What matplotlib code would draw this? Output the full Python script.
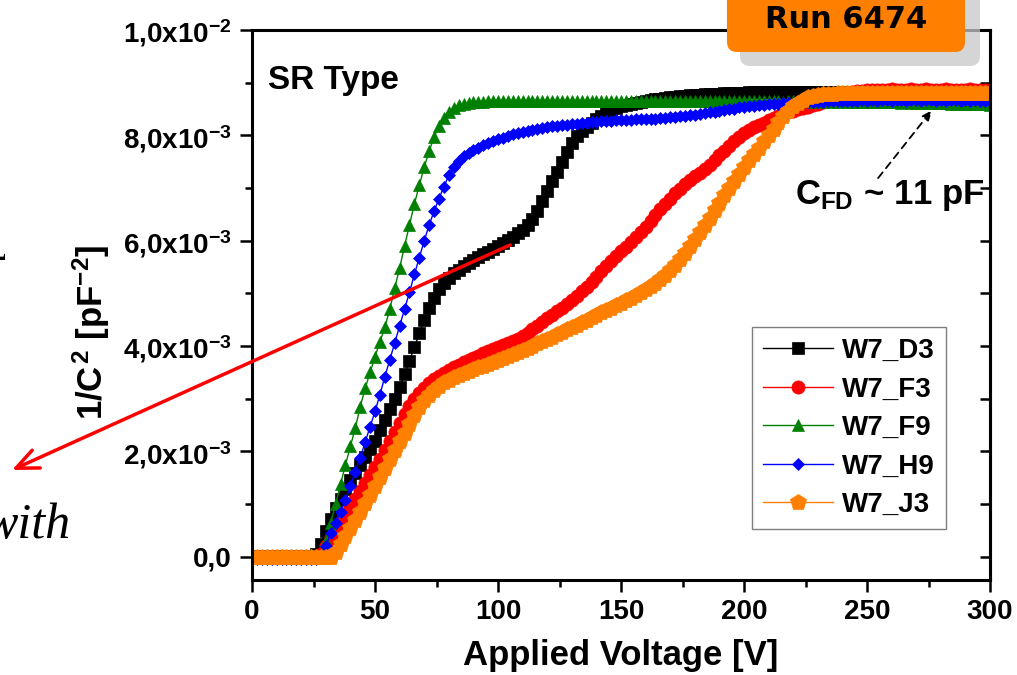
import numpy as np
import matplotlib.pyplot as plt
from matplotlib.patches import FancyBboxPatch
from matplotlib.transforms import IdentityTransform
from matplotlib.ticker import MultipleLocator, FuncFormatter

plt.rcParams['font.family'] = ['Liberation Sans', 'DejaVu Sans']
plt.rcParams['font.weight'] = 'bold'
plt.rcParams['mathtext.fontset'] = 'custom'
for k in ('rm', 'it', 'bf', 'sf'):
    plt.rcParams['mathtext.' + k] = 'Liberation Sans:bold'

# Spannung in V, Messung alle 2 V
voltage = np.arange(0, 301, 2)

# 1/C^2 in Einheiten von 1e-3 pF^-2
w7_d3 = [
    0.02, 0.02, 0.02, 0.02, 0.02, 0.02, 0.02, 0.02, 0.02, 0.02,
    0.02, 0.02, 0.02, 0.05, 0.25, 0.50, 0.72, 0.92, 1.10, 1.28,
    1.45, 1.60, 1.75, 1.90, 2.05, 2.20, 2.40, 2.60, 2.80, 3.00,
    3.22, 3.47, 3.72, 3.98, 4.24, 4.50, 4.72, 4.92, 5.08, 5.20,
    5.30, 5.38, 5.45, 5.52, 5.58, 5.64, 5.69, 5.74, 5.79, 5.84,
    5.90, 5.96, 6.02, 6.08, 6.14, 6.21, 6.30, 6.41, 6.56, 6.75,
    6.95, 7.13, 7.31, 7.50, 7.68, 7.86, 7.99, 8.08, 8.16, 8.24,
    8.31, 8.37, 8.43, 8.48, 8.52, 8.55, 8.58, 8.60, 8.62, 8.64,
    8.66, 8.67, 8.69, 8.70, 8.71, 8.72, 8.73, 8.74, 8.75, 8.76,
    8.77, 8.77, 8.78, 8.78, 8.79, 8.79, 8.80, 8.80, 8.80, 8.81,
    8.81, 8.82, 8.82, 8.82, 8.83, 8.82, 8.83, 8.83, 8.82, 8.83,
    8.83, 8.82, 8.83, 8.83, 8.82, 8.83, 8.83, 8.82, 8.83, 8.83,
    8.82, 8.83, 8.83, 8.82, 8.83, 8.82, 8.83, 8.83, 8.82, 8.83,
    8.83, 8.82, 8.83, 8.83, 8.83, 8.82, 8.83, 8.83, 8.83, 8.82,
    8.83, 8.83, 8.82, 8.83, 8.83, 8.83, 8.82, 8.83, 8.83, 8.83,
    8.83]
w7_f3 = [
    0.00, 0.00, 0.00, 0.00, 0.00, 0.00, 0.00, 0.00, 0.00, 0.00,
    0.00, 0.00, 0.00, 0.00, 0.05, 0.20, 0.35, 0.50, 0.65, 0.80,
    0.95, 1.10, 1.25, 1.40, 1.55, 1.70, 1.86, 2.02, 2.19, 2.37,
    2.55, 2.71, 2.86, 2.99, 3.11, 3.21, 3.30, 3.37, 3.43, 3.49,
    3.55, 3.60, 3.65, 3.70, 3.74, 3.78, 3.82, 3.86, 3.90, 3.94,
    3.98, 4.02, 4.06, 4.10, 4.14, 4.19, 4.25, 4.32, 4.39, 4.46,
    4.53, 4.60, 4.67, 4.73, 4.80, 4.88, 4.96, 5.05, 5.13, 5.22,
    5.32, 5.42, 5.52, 5.62, 5.71, 5.80, 5.89, 5.98, 6.07, 6.17,
    6.27, 6.38, 6.49, 6.60, 6.70, 6.80, 6.90, 6.99, 7.07, 7.15,
    7.22, 7.29, 7.36, 7.44, 7.53, 7.62, 7.71, 7.80, 7.89, 7.97,
    8.04, 8.10, 8.15, 8.20, 8.24, 8.29, 8.33, 8.37, 8.41, 8.44,
    8.47, 8.50, 8.52, 8.54, 8.57, 8.60, 8.63, 8.66, 8.70, 8.74,
    8.77, 8.80, 8.82, 8.84, 8.85, 8.86, 8.86, 8.87, 8.86, 8.87,
    8.88, 8.86, 8.87, 8.87, 8.88, 8.86, 8.87, 8.88, 8.87, 8.86,
    8.87, 8.88, 8.87, 8.86, 8.87, 8.87, 8.88, 8.87, 8.86, 8.87,
    8.87]
w7_f9 = [
    0.00, 0.00, 0.00, 0.00, 0.00, 0.00, 0.00, 0.00, 0.00, 0.00,
    0.00, 0.00, 0.00, 0.00, 0.02, 0.30, 0.65, 1.00, 1.38, 1.75,
    2.10, 2.45, 2.85, 3.20, 3.50, 3.80, 4.08, 4.36, 4.70, 5.10,
    5.48, 5.90, 6.30, 6.70, 7.05, 7.40, 7.70, 7.97, 8.17, 8.33,
    8.45, 8.52, 8.57, 8.60, 8.62, 8.63, 8.64, 8.64, 8.65, 8.65,
    8.65, 8.66, 8.65, 8.65, 8.66, 8.65, 8.66, 8.65, 8.65, 8.66,
    8.65, 8.65, 8.66, 8.65, 8.65, 8.66, 8.65, 8.65, 8.66, 8.65,
    8.66, 8.65, 8.65, 8.66, 8.65, 8.65, 8.66, 8.65, 8.66, 8.65,
    8.65, 8.66, 8.65, 8.65, 8.66, 8.65, 8.65, 8.66, 8.65, 8.65,
    8.66, 8.65, 8.65, 8.66, 8.65, 8.65, 8.66, 8.65, 8.65, 8.66,
    8.65, 8.65, 8.66, 8.65, 8.65, 8.66, 8.65, 8.65, 8.64, 8.65,
    8.65, 8.64, 8.65, 8.65, 8.64, 8.65, 8.64, 8.65, 8.64, 8.64,
    8.65, 8.64, 8.64, 8.64, 8.63, 8.64, 8.64, 8.63, 8.64, 8.63,
    8.63, 8.63, 8.62, 8.63, 8.62, 8.62, 8.62, 8.61, 8.62, 8.61,
    8.61, 8.61, 8.60, 8.60, 8.60, 8.60, 8.59, 8.59, 8.59, 8.59,
    8.58]
w7_h9 = [
    -0.05, -0.05, -0.05, -0.05, -0.05, -0.05, -0.05, -0.05, -0.05, -0.05,
    -0.05, -0.05, -0.05, -0.05, 0.00, 0.20, 0.45, 0.65, 0.85, 1.08,
    1.35, 1.62, 1.88, 2.18, 2.47, 2.76, 3.08, 3.42, 3.74, 4.06,
    4.38, 4.70, 5.02, 5.36, 5.68, 6.00, 6.30, 6.56, 6.80, 7.03,
    7.24, 7.40, 7.51, 7.60, 7.67, 7.72, 7.77, 7.81, 7.85, 7.89,
    7.93, 7.96, 7.99, 8.02, 8.04, 8.06, 8.08, 8.10, 8.12, 8.14,
    8.15, 8.17, 8.18, 8.19, 8.20, 8.21, 8.22, 8.23, 8.24, 8.25,
    8.26, 8.27, 8.27, 8.28, 8.29, 8.29, 8.30, 8.30, 8.31, 8.31,
    8.31, 8.31, 8.32, 8.33, 8.33, 8.34, 8.35, 8.36, 8.37, 8.38,
    8.39, 8.41, 8.42, 8.44, 8.45, 8.47, 8.48, 8.50, 8.51, 8.53,
    8.54, 8.55, 8.56, 8.57, 8.58, 8.59, 8.60, 8.60, 8.61, 8.61,
    8.62, 8.62, 8.63, 8.63, 8.64, 8.64, 8.64, 8.65, 8.65, 8.65,
    8.66, 8.66, 8.66, 8.66, 8.67, 8.66, 8.67, 8.66, 8.67, 8.67,
    8.66, 8.67, 8.67, 8.66, 8.67, 8.67, 8.66, 8.67, 8.67, 8.66,
    8.67, 8.66, 8.67, 8.67, 8.66, 8.67, 8.66, 8.67, 8.66, 8.66,
    8.66]
w7_j3 = [
    0.00, 0.00, 0.00, 0.00, 0.00, 0.00, 0.00, 0.00, 0.00, 0.00,
    0.00, 0.00, 0.00, 0.00, 0.00, 0.00, 0.00, 0.10, 0.25, 0.40,
    0.55, 0.70, 0.86, 1.02, 1.18, 1.34, 1.51, 1.68, 1.85, 2.02,
    2.19, 2.36, 2.53, 2.69, 2.84, 2.97, 3.08, 3.17, 3.25, 3.31,
    3.36, 3.41, 3.45, 3.49, 3.53, 3.56, 3.60, 3.63, 3.67, 3.70,
    3.74, 3.77, 3.81, 3.85, 3.89, 3.93, 3.97, 4.01, 4.06, 4.10,
    4.14, 4.18, 4.23, 4.27, 4.32, 4.36, 4.41, 4.46, 4.50, 4.55,
    4.60, 4.64, 4.69, 4.73, 4.78, 4.82, 4.87, 4.92, 4.97, 5.02,
    5.08, 5.14, 5.20, 5.27, 5.35, 5.44, 5.54, 5.65, 5.77, 5.90,
    6.03, 6.16, 6.30, 6.44, 6.58, 6.72, 6.86, 7.00, 7.14, 7.27,
    7.40, 7.53, 7.65, 7.77, 7.89, 8.01, 8.13, 8.25, 8.36, 8.46,
    8.55, 8.62, 8.68, 8.72, 8.75, 8.77, 8.78, 8.79, 8.79, 8.80,
    8.80, 8.80, 8.80, 8.80, 8.80, 8.80, 8.80, 8.80, 8.80, 8.80,
    8.80, 8.80, 8.80, 8.80, 8.80, 8.80, 8.80, 8.80, 8.80, 8.80,
    8.80, 8.80, 8.80, 8.80, 8.80, 8.80, 8.80, 8.80, 8.80, 8.80,
    8.80]

names = ['W7_D3', 'W7_F3', 'W7_F9', 'W7_H9', 'W7_J3']
series = [w7_d3, w7_f3, w7_f9, w7_h9, w7_j3]
colors = ['#000000', '#ff0000', '#008000', '#0000ff', '#ff8000']
markers = ['s', 'o', '^', 'D', 'p']
msizes = [8.5, 9.5, 9, 6.3, 12]

fig = plt.figure(figsize=(10.17, 6.75), dpi=100)
ax = fig.add_axes([0.2478, 0.1407, 0.7257, 0.8148])

for y, name, c, m, ms in zip(series, names, colors, markers, msizes):
    ax.plot(voltage, np.array(y) * 1e-3, color=c, lw=1, marker=m, ms=ms,
            mfc=c, mec=c, mew=0.5, label=name)

ax.set_xlim(0, 300)
ax.set_ylim(-0.44e-3, 1.0e-2)
ax.xaxis.set_major_locator(MultipleLocator(50))
ax.xaxis.set_minor_locator(MultipleLocator(25))
ax.yaxis.set_major_locator(MultipleLocator(2e-3))
ax.yaxis.set_minor_locator(MultipleLocator(1e-3))


def ylab(v, pos):
    if abs(v) < 1e-9:
        return '0,0'
    e = int(np.floor(np.log10(abs(v)) + 1e-9))
    m = v / 10 ** e
    return r'$%d{,}%d\mathrm{x}10^{%d}$' % (int(m), int(round((m - int(m)) * 10)), e)


ax.yaxis.set_major_formatter(FuncFormatter(ylab))
ax.tick_params(which='major', direction='out', length=8.5, width=1.8, labelsize=20, pad=5)
ax.tick_params(which='minor', direction='out', length=5, width=1.8)
ax.tick_params(axis='y', which='major', pad=6)
for s in ax.spines.values():
    s.set_linewidth(2.2)

# rechte Achse: Ticks nach innen, ohne Beschriftung
sec = ax.secondary_yaxis('right')
sec.yaxis.set_major_locator(MultipleLocator(2e-3))
sec.yaxis.set_minor_locator(MultipleLocator(1e-3))
sec.tick_params(which='both', direction='in', length=7, width=1.8, labelright=False)
sec.spines['right'].set_linewidth(2.2)

ax.set_xlabel('Applied Voltage [V]', fontsize=25, fontweight='bold')
ax.xaxis.set_label_coords(0.5, -0.108)
ax.set_ylabel(r'$1/C^{2}$ [pF$^{-2}$]', fontsize=25, fontweight='bold')
ax.yaxis.set_label_coords(-0.218, 0.451)
ax.yaxis.label.set_va('center')

leg = ax.legend(loc='upper left', bbox_to_anchor=(0.6775, 0.46), fontsize=20,
                frameon=True, fancybox=False, edgecolor='#7f7f7f', framealpha=1,
                borderaxespad=0, handlelength=2.5, handletextpad=0.35,
                labelspacing=0.45, borderpad=0.4, markerscale=1.0)
leg.get_frame().set_linewidth(1.0)

ax.text(0.0217, 0.909, 'SR Type', transform=ax.transAxes, fontsize=24,
        fontweight='bold', va='center', ha='left')
ax.text(0.7358, 0.70, r'$C_{FD}$ ~ 11 pF', transform=ax.transAxes, fontsize=25,
        fontweight='bold', va='center', ha='left')
ax.annotate('', xy=(276.4, 8.48e-3), xytext=(254.5, 7.19e-3),
            arrowprops=dict(arrowstyle='-|>,head_length=0.6,head_width=0.25',
                            color='black', lw=1.3, linestyle=(0, (4, 3)),
                            shrinkA=0, shrinkB=0))

# roter Pfeil aus dem Plot heraus nach links unten
ax.annotate('', xy=(12, 205), xycoords='figure pixels',
            xytext=(104.9, 5.92e-3), textcoords='data',
            arrowprops=dict(arrowstyle='->,head_length=1.6,head_width=0.7',
                            color='red', lw=2.5, shrinkA=0, shrinkB=0),
            annotation_clip=False, zorder=6)

# Textreste am linken Bildrand
fig.text(-15 / 1017, 137 / 675, 'with', family='Liberation Serif', style='italic',
         weight='normal', fontsize=36, va='baseline', ha='left')
fig.text(-7 / 1017, 1 - 254 / 675, '[', family='Liberation Serif', weight='bold',
         fontsize=20, rotation=90, ha='center', va='center')

# "Run 6474" Kasten mit Schatten
fig.add_artist(FancyBboxPatch((740, 609), 240, 100, boxstyle='round,pad=0,rounding_size=10',
                              transform=IdentityTransform(), fc='#c8c8c8', ec='none',
                              alpha=0.75, zorder=5))
fig.add_artist(FancyBboxPatch((727, 623), 238, 100, boxstyle='round,pad=0,rounding_size=10',
                              transform=IdentityTransform(), fc='#ff8000', ec='none',
                              zorder=6))
fig.text(846 / 1017, 1 - 20 / 675, 'Run 6474', family='DejaVu Sans', weight='bold',
         fontsize=22, ha='center', va='center', zorder=7)

plt.savefig('out.png', dpi=100)
